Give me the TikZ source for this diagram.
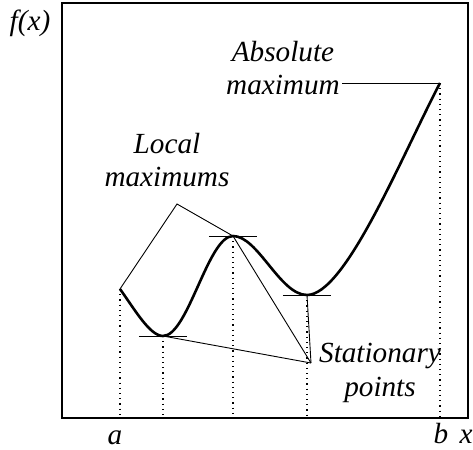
\documentclass[tikz,border=0pt]{standalone}
\usepackage{fontspec}
\setmainfont{Liberation Serif}
\usepackage{tikz}

\tikzset{
  lbl/.style={font=\fontsize{14.6}{16.8}\selectfont\itshape, inner sep=1pt},
  guide/.style={line width=0.6pt, dotted},
  pointer/.style={line width=0.45pt},
}

\begin{document}
\begin{tikzpicture}[x=0.5pt,y=-0.5pt]
  \useasboundingbox (0,0) rectangle (473,450);
  % frame
  \draw[line width=1pt] (62,3) rectangle (468,418);
  % points on the curve
  \coordinate (pa) at (120,289);
  \coordinate (min1) at (163,336);
  \coordinate (max1) at (233,236);
  \coordinate (min2) at (307,295);
  \coordinate (pb) at (440,83);
  % the function
  \draw[line width=1.3pt] (pa) .. controls (135,310) and (150,336) .. (min1)
    .. controls (188,336) and (208,236) .. (max1)
    .. controls (258,236) and (280,295) .. (min2)
    .. controls (345,295) and (400,160) .. (pb);
  % tangents at stationary points
  \foreach \p in {min1,max1,min2}
    \draw[pointer] ([xshift=-12pt]\p) -- ([xshift=12pt]\p);
  % drop lines
  \foreach \p in {pa,min1,max1,min2,pb}
    \draw[guide] (\p) -- (\p |- 0,418);
  % labels
  \node[lbl,anchor=base] (fx) at (30,30) {f(x)};
  \node[lbl,anchor=base] (la) at (115,444) {a};
  \node[lbl,anchor=base] (lb) at (441,443) {b};
  \node[lbl,anchor=base] (lx) at (466,443) {x};
  \node[lbl,align=center] (absmax) at (283,68) {Absolute\\maximum};
  \node[lbl,align=center] (locmax) at (167,160) {Local\\maximums};
  \node[lbl,align=center] (statpt) at (380,373) {Stationary\\points};
  % pointers
  \coordinate (lmv) at (177,204);
  \coordinate (spv) at (311,363);
  \draw[pointer] (absmax.east |- pb) -- (pb);
  \draw[pointer] (pa) -- (lmv) -- (max1);
  \foreach \p in {min1,max1,min2}
    \draw[pointer] (spv) -- (\p);
\end{tikzpicture}
\end{document}
